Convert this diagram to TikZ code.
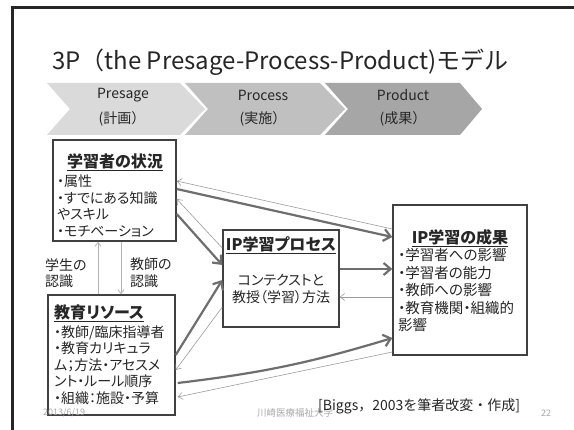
\documentclass[tikz,border=0pt]{standalone}
\usepackage{fontspec}
\setmainfont{Noto Sans CJK JP}
\newfontfamily\pfont{Noto Sans CJK JP}[RawFeature=+palt]
\usetikzlibrary{arrows.meta}
\definecolor{boxline}{HTML}{404040}
\definecolor{arrdark}{HTML}{6E6E6E}
\definecolor{arrlight}{HTML}{9C9C9C}
\definecolor{arrvert}{HTML}{B4B4B4}
\definecolor{framec}{HTML}{262626}
\definecolor{textdark}{HTML}{262626}
\definecolor{chevA}{HTML}{DADADA}
\definecolor{chevB}{HTML}{C0C0C0}
\definecolor{chevC}{HTML}{A6A6A6}
\definecolor{footgray}{HTML}{A8A8A8}
\begin{document}
\begin{tikzpicture}[x=1pt,y=-1pt,
  box/.style={draw=boxline,line width=1.4pt,fill=white,inner sep=0pt},
  thickarr/.style={draw=arrdark,line width=2.2pt,-{Straight Barb[length=7pt,width=12pt]}},
  thinarr/.style={draw=arrlight,line width=0.6pt,-{Straight Barb[length=4.5pt,width=7pt]}},
  vertarr/.style={draw=arrvert,line width=0.8pt,-{Straight Barb[length=4pt,width=6pt]}},
  txt/.style={inner sep=0pt,text=textdark},
  btitle/.style={txt,font=\pfont\fontsize{16}{18}\selectfont\bfseries},
  bitems/.style={txt,align=left,font=\pfont\fontsize{14}{16.6}\selectfont},
  citems/.style={txt,align=left,font=\pfont\fontsize{14.5}{17.5}\selectfont},
  chevtxt/.style={txt,font=\fontsize{14}{15}\selectfont},
  foot/.style={inner sep=0pt,text=footgray}]
\useasboundingbox (0,0) rectangle (574,430);
\fill[white] (0,0) rectangle (574,430);
\draw[line width=3pt,framec] (12,430) -- (12,8) -- (574,8);

% title
\node[txt,anchor=base west,font=\fontsize{24}{24}\selectfont] (title) at (52,70) {3P（the Presage-Process-Product)モデル};

% chevrons
\fill[chevA] (47,83) -- (180,83) -- (205,109) -- (180,135) -- (47,135) -- (70,109) -- cycle;
\fill[chevB] (185,83) -- (320,83) -- (345,109) -- (320,135) -- (185,135) -- (208,109) -- cycle;
\fill[chevC] (325,83) -- (460,83) -- (482,109) -- (460,135) -- (325,135) -- (348,109) -- cycle;
\node[chevtxt] (c1a) at (123,95) {Presage};
\node[chevtxt] (c1b) at (122,119) {(計画）};
\node[chevtxt] (c2a) at (263,95) {Process};
\node[chevtxt] (c2b) at (263,119) {(実施）};
\node[chevtxt] (c3a) at (403,95) {Product};
\node[chevtxt] (c3b) at (403,119) {(成果）};

% boxes
\node[box,minimum width=123pt,minimum height=101pt] (A) at (114.5,190.5) {};
\node[box,minimum width=127pt,minimum height=120pt] (R) at (111.5,355) {};
\node[box,minimum width=116pt,minimum height=97pt] (B) at (281,278.5) {};
\node[box,minimum width=134pt,minimum height=150pt] (C) at (460,280) {};

% box texts
\node[btitle] (At) at (115,162) {\underline{学習者の状況}};
\node[bitems,anchor=west] (Ai) at (57,206) {・属性\\・すでにある知識\\やスキル\\・モチベーション};
\node[btitle,anchor=west] (Rt) at (54,313) {\underline{教育リソース}};
\node[bitems,anchor=west] (Ri) at (54,365) {・教師/臨床指導者\\・教育カリキュラ\\ム；方法・アセスメ\\ント・ルール順序\\・組織：施設・予算};
\node[btitle] (Bt) at (281,245) {\underline{IP学習プロセス}};
\node[bitems,align=center] (Bi) at (281,289) {コンテクストと\\教授（学習）方法};
\node[btitle] (Ct) at (460,238) {\underline{IP学習の成果}};
\node[citems,anchor=west] (Ci) at (398,290) {・学習者への影響\\・学習者の能力\\・教師への影響\\・教育機関・組織的\\影響};

% perception labels
\node[bitems,anchor=west] (L1) at (45,273) {学生の\\認識};
\node[bitems,anchor=west] (L2) at (130,273) {教師の\\認識};

% vertical arrows
\draw[vertarr] ([xshift=-13.5pt]R.north) -- ([xshift=-16.5pt]A.south);
\draw[vertarr] ([xshift=6.5pt]A.south) -- ([xshift=9.5pt]R.north);

% connectors
\draw[thinarr] ([yshift=51pt]C.west) -- ([yshift=9.5pt]A.east);
\draw[thickarr] ([yshift=1.5pt]A.east) -- ([yshift=43pt]C.west);
\draw[thinarr] ([yshift=30.5pt]B.west) -- ([yshift=-8.5pt]A.east);
\draw[thickarr] ([yshift=-23.5pt]A.east) -- ([yshift=13.5pt]B.west);
\draw[thickarr] (R.east) -- ([yshift=-1.5pt]B.west);
\draw[thinarr] ([yshift=-28.5pt]B.west) -- ([yshift=-15pt]R.east);
\draw[thickarr] ([yshift=9.5pt]B.east) -- ([yshift=11pt]C.west);
\draw[thinarr] ([yshift=-17pt]C.west) -- ([yshift=-18.5pt]B.east);
\draw[thickarr] ([yshift=-28pt,xshift=2pt]R.east) to[bend right=5] ([yshift=-58pt]C.west);
\draw[thinarr] ([yshift=-72pt]C.west) -- ([yshift=-42pt,xshift=2pt]R.east);

% footer
\node[foot,anchor=west,font=\fontsize{9}{10}\selectfont] (date) at (43,413) {2013/6/19};
\node[foot,anchor=west,font=\fontsize{9.5}{10}\selectfont] (inst) at (257,413) {川崎医療福祉大学};
\node[txt,anchor=west,font=\fontsize{14}{15}\selectfont] (cap) at (318,406) {[Biggs，2003を筆者改変・作成]};
\node[foot,font=\fontsize{9}{10}\selectfont] (pg) at (546,413) {22};
\end{tikzpicture}
\end{document}
